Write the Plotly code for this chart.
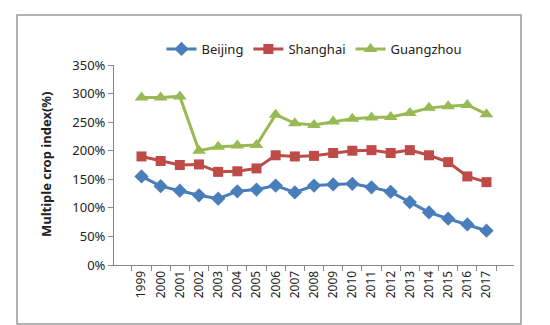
import plotly.graph_objects as go

years = [str(y) for y in range(1999, 2018)]
beijing = [155, 138, 130, 122, 116, 129, 132, 139, 127, 139, 141, 142, 136, 128, 110, 92, 81, 71, 60]
shanghai = [190, 182, 175, 176, 163, 164, 169, 192, 190, 191, 196, 200, 201, 196, 201, 192, 180, 155, 145]
guangzhou = [293, 293, 295, 200, 207, 209, 210, 263, 248, 245, 251, 256, 258, 259, 266, 275, 278, 280, 264]
yticks = [0, 50, 100, 150, 200, 250, 300, 350]

fig = go.Figure()
fig.add_trace(go.Scatter(x=years, y=beijing, name="Beijing", mode="lines+markers",
                         line=dict(color="#4A7EBB", width=3),
                         marker=dict(symbol="diamond", size=11, color="#4A7EBB")))
fig.add_trace(go.Scatter(x=years, y=shanghai, name="Shanghai", mode="lines+markers",
                         line=dict(color="#BE4B48", width=3),
                         marker=dict(symbol="square", size=10, color="#BE4B48")))
fig.add_trace(go.Scatter(x=years, y=guangzhou, name="Guangzhou", mode="lines+markers",
                         line=dict(color="#98B954", width=3),
                         marker=dict(symbol="triangle-up", size=12, color="#98B954")))

fig.update_layout(
    width=550, height=325,
    margin=dict(l=106, r=44, t=57, b=68, autoexpand=False),
    paper_bgcolor="white", plot_bgcolor="white",
    font=dict(family="Noto Sans, Liberation Sans, sans-serif", size=12, color="#222"),
    showlegend=True,
    legend=dict(orientation="h", x=0.5, xanchor="center", y=1.08, yanchor="middle",
                font=dict(size=13), itemwidth=30, traceorder="normal"),
    xaxis=dict(type="category", tickson="boundaries", ticks="outside", ticklen=5,
               tickcolor="#888", showline=True, linecolor="#888", linewidth=1,
               showgrid=False, tickangle=-90, tickfont=dict(size=12), automargin=False),
    yaxis=dict(range=[0, 350], tickvals=yticks, ticktext=[f"{v}%" for v in yticks],
               ticks="outside", ticklen=5, tickcolor="#888", showline=True,
               linecolor="#888", linewidth=1, showgrid=False, zeroline=False,
               tickfont=dict(size=13), automargin=False),
)
fig.add_annotation(text="<b>Multiple crop index(%)</b>", xref="paper", yref="paper",
                   x=-0.17, y=0.5, textangle=-90, showarrow=False,
                   font=dict(size=13, color="#222"), xanchor="center", yanchor="middle")
fig.add_shape(type="rect", xref="paper", yref="paper",
              x0=-0.2425, x1=1.0175, y0=-0.295, y1=1.25,
              line=dict(color="#999", width=1.5), fillcolor="rgba(0,0,0,0)")
fig.write_html("out.html")
